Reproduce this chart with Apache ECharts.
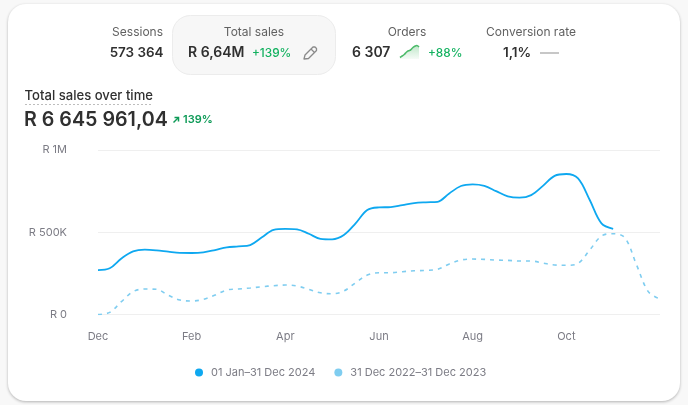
<!DOCTYPE html>
<html><head><meta charset="utf-8">
<style>html,body{margin:0;padding:0;background:#f8f8f8}#c{width:688px;height:405px}</style>
<script src="https://cdn.jsdelivr.net/npm/echarts@6/dist/echarts.min.js"></script>
</head><body><div id="c"></div>
<script>
const months=['Dec','Jan','Feb','Mar','Apr','May','Jun','Jul','Aug','Sep','Oct','Nov','Dec'];
const categories=months.flatMap((m,i)=>i===12?[m]:[m,m+' wk2',m+' wk3',m+' wk4']);
const current=[270,281,341,384,394,390,382,375,374,378,392,408,414,422,469,515,521,518,491,460,457,483,554,635,651,653,665,677,682,685,736,781,791,782,750,718,710,726,782,843,854,827,696,554,521,null,null,null,null];
const previous=[0,13,78,139,155,153,117,88,82,92,118,149,155,161,169,175,179,173,153,132,126,143,193,240,254,254,260,266,268,275,307,331,337,335,331,329,325,325,313,301,299,311,392,477,491,467,301,139,94];
const yTicks={0:'R 0',500000:'R 500K',1000000:'R 1M'};
const seriesNames=['01 Jan–31 Dec 2024','31 Dec 2022–31 Dec 2023'];
const ordersSpark=[1,2,3,4.5,5.5,6,7.5,8.5,9,8];
const FONT='Inter';
const dark='#303030',grey='#616161',green='#12b15f';
function t(x,y,text,size,fill,weight,align){return {type:'text',z:5,x,y,style:{text,font:`${weight||400} ${size}px ${FONT}`,fill,textAlign:align||'left',textVerticalAlign:'middle'}};}
const chart=echarts.init(document.getElementById('c'),null,{renderer:'canvas',width:688,height:405});
chart.setOption({
  animation:false,
  backgroundColor:'#f8f8f8',
  textStyle:{fontFamily:FONT},
  graphic:[
    {type:'rect',z:-10,shape:{x:8,y:4,width:672,height:397,r:18},style:{fill:'#fff',shadowBlur:3,shadowOffsetY:1,shadowColor:'rgba(0,0,0,0.28)'}},
    {type:'rect',z:-9,shape:{x:172.5,y:15.5,width:163,height:59,r:18},style:{fill:'#f7f7f7',stroke:'#ececec',lineWidth:1}},
    t(163,32.5,'Sessions',12,grey,400,'right'),
    t(163.5,52.5,'573 364',13.4,dark,600,'right'),
    t(254,32.5,'Total sales',12,grey,400,'center'),
    t(188,53,'R 6,64M',14,dark,600),
    t(252,53,'+139%',11.8,green,500),
    {type:'polygon',z:5,shape:{points:[[304,59],[305,55],[313,47],[315,47],[316.5,48.5],[316.5,50.5],[308.5,58.5]]},style:{fill:'none',stroke:'#8a8a8a',lineWidth:1.3,lineJoin:'round'}},
    {type:'line',z:5,shape:{x1:311,y1:49,x2:314.5,y2:52.5},style:{stroke:'#8a8a8a',lineWidth:1.2}},
    t(407,32.5,'Orders',12,grey,400,'center'),
    t(352,53,'6 307',14,dark,600),
    t(428,53,'+88%',11.8,green,500),
    t(531,32.5,'Conversion rate',12,grey,400,'center'),
    t(503,52.5,'1,1%',13.6,dark,600),
    {type:'line',z:5,shape:{x1:540,y1:53,x2:559,y2:53},style:{stroke:'#b5b5b5',lineWidth:1.5}},
    t(24.5,96,'Total sales over time',13.1,dark,500),
    {type:'line',z:5,shape:{x1:25,y1:104.5,x2:153,y2:104.5},style:{stroke:'#bdbdbd',lineWidth:1,lineDash:[2,2]}},
    t(24,120.5,'R 6 645 961,04',19.7,dark,600),
    {type:'polyline',z:5,shape:{points:[[173.5,122.5],[178,118]]},style:{fill:'none',stroke:'#0d9a57',lineWidth:1.5}},
    {type:'polyline',z:5,shape:{points:[[174.5,117.5],[178.5,117.5],[178.5,121.5]]},style:{fill:'none',stroke:'#0d9a57',lineWidth:1.5}},
    t(183,120,'139%',11,'#0d9a57',600)
  ],
  legend:{
    data:seriesNames,left:190,top:362,icon:'circle',itemWidth:8,itemHeight:8,itemGap:19,
    textStyle:{fontFamily:FONT,fontSize:11,color:'#7c7c85',padding:[0,0,0,3]},
    inactiveColor:'#ccc'
  },
  grid:[
    {left:98,right:28,top:150,bottom:90.5},
    {left:400,top:44,width:19,height:15}
  ],
  xAxis:[
    {type:'category',gridIndex:0,data:categories,boundaryGap:false,
      axisLine:{show:false},axisTick:{show:false},splitLine:{show:false},
      axisLabel:{interval:i=>i%8===0&&i<48,margin:17,fontFamily:FONT,fontSize:11,color:'#7c7c85',hideOverlap:false}},
    {type:'category',gridIndex:1,show:false,boundaryGap:false,data:ordersSpark.map((_,i)=>i)}
  ],
  yAxis:[
    {type:'value',gridIndex:0,min:0,max:1000000,interval:500000,
      axisLine:{show:false},axisTick:{show:false},
      splitLine:{lineStyle:{color:'#efefef',width:1}},
      axisLabel:{margin:31,fontFamily:FONT,fontSize:11,color:'#7c7c85',formatter:v=>yTicks[v]}},
    {type:'value',gridIndex:1,show:false,min:0,max:10}
  ],
  series:[
    {name:seriesNames[1],type:'line',data:previous.map(v=>v===null?null:v*1000),smooth:0.35,showSymbol:false,z:2,
      itemStyle:{color:'#7fcdf0'},lineStyle:{color:'#7fcdf0',width:1.6,type:[4,5]}},
    {name:seriesNames[0],type:'line',data:current.map(v=>v===null?null:v*1000),smooth:0.35,showSymbol:false,z:3,
      itemStyle:{color:'#0ea8f0'},lineStyle:{color:'#0ea8f0',width:1.8}},
    {type:'line',xAxisIndex:1,yAxisIndex:1,data:ordersSpark,smooth:0.3,showSymbol:false,silent:true,
      lineStyle:{color:'#4dbb6a',width:1.6},
      areaStyle:{color:{type:'linear',x:0,y:0,x2:0,y2:1,colorStops:[{offset:0,color:'rgba(77,187,106,0.5)'},{offset:1,color:'rgba(77,187,106,0.08)'}]}}}
  ]
});
</script></body></html>
